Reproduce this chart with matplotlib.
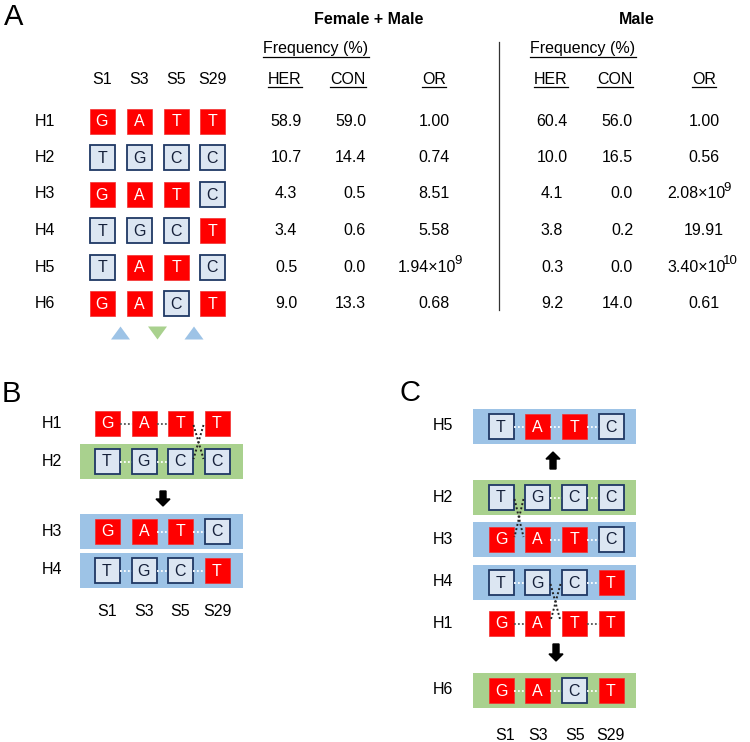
import numpy as np
import matplotlib
matplotlib.use('Agg')
import matplotlib.pyplot as plt
from matplotlib.patches import Rectangle, Polygon, FancyArrow

plt.rcParams['font.family'] = ['Liberation Sans', 'DejaVu Sans']

# ---- data ----
snps = ['S1', 'S3', 'S5', 'S29']
haps = ['H1', 'H2', 'H3', 'H4', 'H5', 'H6']
alleles = ['GATT', 'TGCC', 'GATC', 'TGCT', 'TATC', 'GACT']
risk = 'GATT'
fm_her = [58.9, 10.7, 4.3, 3.4, 0.5, 9.0]
fm_con = [59.0, 14.4, 0.5, 0.6, 0.0, 13.3]
fm_or = [1.00, 0.74, 8.51, 5.58, 1.94e9, 0.68]
m_her = [60.4, 10.0, 4.1, 3.8, 0.3, 9.2]
m_con = [56.0, 16.5, 0.0, 0.2, 0.0, 14.0]
m_or = [1.00, 0.56, 2.08e9, 19.91, 3.40e10, 0.61]
tri_dirs = ['up', 'down', 'up']

# panel B / C rows; links: 'w' white dots, 'g' gray dots, '' none
b_rows = ['H1', 'H2', 'H3', 'H4']
b_bands = [None, 'green', 'blue', 'blue']
b_links = [['g', 'g', ''], ['w', 'w', ''], ['', 'w', 'w'], ['w', 'w', 'w']]
b_cross = [(0, 2)]  # (upper row index, gap index)
c_rows = ['H5', 'H2', 'H3', 'H4', 'H1', 'H6']
c_bands = ['blue', 'green', 'blue', 'blue', None, 'green']
c_links = [['w', 'w', 'w'], ['', 'w', 'w'], ['', 'w', 'w'], ['w', '', 'w'],
           ['g', '', 'g'], ['w', 'w', 'w']]
c_cross = [(1, 0), (3, 1)]

RED = '#FF0000'
LBLUE = '#DCE6F2'
NAVY = '#1F3864'
BAND = {'blue': '#9DC3E6', 'green': '#A9D18E'}
FS = 11.5
BOX = 25

fig = plt.figure(figsize=(7.5, 7.42), dpi=100)
ax = fig.add_axes([0, 0, 1, 1])
ax.set_xlim(0, 750)
ax.set_ylim(742, 0)
ax.axis('off')


def box(x, y, ch, ref):
    if ch == ref:
        ax.add_patch(Rectangle((x - BOX / 2, y - BOX / 2), BOX, BOX, fc=RED, ec='#F03030', lw=0.5))
        ax.text(x, y + 1, ch, ha='center', va='center', color='white', fontsize=FS)
    else:
        ax.add_patch(Rectangle((x - BOX / 2, y - BOX / 2), BOX, BOX, fc=LBLUE, ec=NAVY, lw=1.3))
        ax.text(x, y + 1, ch, ha='center', va='center', color='#15203a', fontsize=FS)


underlined = []
sups = []


def or_text(x_center, x_left, y, v):
    if v > 1e6:
        e = int(np.floor(np.log10(v)))
        t = ax.text(x_left, y, '%.2f\u00d710' % (v / 10 ** e), fontsize=FS, ha='left', va='center')
        sups.append((t, str(e), y))
    else:
        ax.text(x_center, y, '%.2f' % v, fontsize=FS, ha='center', va='center')


# ---- panel A ----
ax.text(14, 17, 'A', fontsize=21, ha='center', va='center')
ax.text(369, 19, 'Female + Male', fontsize=FS, weight='bold', ha='center', va='center')
ax.text(637, 19, 'Male', fontsize=FS, weight='bold', ha='center', va='center')
underlined.append(ax.text(316, 49, 'Frequency (%)', fontsize=FS, ha='center', va='center'))
underlined.append(ax.text(583, 49, 'Frequency (%)', fontsize=FS, ha='center', va='center'))
a_x = [102, 139, 176, 212]
for x, s in zip(a_x, snps):
    ax.text(x, 79, s, fontsize=FS, ha='center', va='center')
for x, s in zip([285, 348, 434, 551, 615, 704], ['HER', 'CON', 'OR', 'HER', 'CON', 'OR']):
    underlined.append(ax.text(x, 79, s, fontsize=FS, ha='center', va='center'))
ax.plot([499, 499], [42, 310], color='#333333', lw=0.9)

a_y = 121 + 36.5 * np.arange(len(haps))
for i, h in enumerate(haps):
    y = a_y[i]
    ax.text(45, y, h, fontsize=FS, ha='center', va='center')
    for j, x in enumerate(a_x):
        box(x, y, alleles[i][j], risk[j])
    ax.text(286, y, '%.1f' % fm_her[i], fontsize=FS, ha='center', va='center')
    ax.text(366, y, '%.1f' % fm_con[i], fontsize=FS, ha='right', va='center')
    or_text(434, 398, y, fm_or[i])
    ax.text(552, y, '%.1f' % m_her[i], fontsize=FS, ha='center', va='center')
    ax.text(633, y, '%.1f' % m_con[i], fontsize=FS, ha='right', va='center')
    or_text(704, 667, y, m_or[i])

for k, d in enumerate(tri_dirs):
    xc = (a_x[k] + a_x[k + 1]) / 2
    yc = 333
    if d == 'up':
        pts = [(xc - 9.5, yc + 6.5), (xc + 9.5, yc + 6.5), (xc, yc - 6.5)]
        col = BAND['blue']
    else:
        pts = [(xc - 9.5, yc - 6.5), (xc + 9.5, yc - 6.5), (xc, yc + 6.5)]
        col = BAND['green']
    ax.add_patch(Polygon(pts, closed=True, fc=col, ec='none'))


def panel(rows, bands, links, cross, xs, ys, lab_x, band_x0, band_x1):
    for i, h in enumerate(rows):
        y = ys[i]
        if bands[i] is not None:
            ax.add_patch(Rectangle((band_x0, y - 17.5), band_x1 - band_x0, 35, fc=BAND[bands[i]], ec='none'))
        ax.text(lab_x, y, h, fontsize=FS, ha='center', va='center')
        seq = alleles[haps.index(h)]
        for j, l in enumerate(links[i]):
            if l:
                col = 'white' if l == 'w' else '#555555'
                ax.plot([xs[j] + BOX / 2, xs[j + 1] - BOX / 2], [y + 1, y + 1], ls=(0, (1, 1.2)), color=col, lw=1.3)
        for j, x in enumerate(xs):
            box(x, y, seq[j], risk[j])
    for r, g in cross:
        x0 = xs[g] + BOX / 2 + 1
        x1 = xs[g + 1] - BOX / 2 - 1
        y0 = ys[r] + 2
        y1 = ys[r + 1] - 2
        ax.plot([x0, x1], [y0, y1], ls=(0, (1, 1.2)), color='#222222', lw=1.4, zorder=5)
        ax.plot([x1, x0], [y0, y1], ls=(0, (1, 1.2)), color='#222222', lw=1.4, zorder=5)


def arrow(x, y0, y1):
    ax.add_patch(FancyArrow(x, y0, 0, y1 - y0, width=6, head_width=14, head_length=7,
                            length_includes_head=True, fc='black', ec='black'))


# ---- panel B ----
ax.text(11, 394, 'B', fontsize=21, ha='center', va='center')
b_x = [107, 144, 180, 217]
b_y = [423, 461, 531, 570]
panel(b_rows, b_bands, b_links, b_cross, b_x, b_y, 52, 80, 243)
arrow(163, 491, 506)
for x, s in zip(b_x, snps):
    ax.text(x, 612, s, fontsize=FS, ha='center', va='center')

# ---- panel C ----
ax.text(410, 393, 'C', fontsize=21, ha='center', va='center')
c_x = [501, 537, 574, 611]
c_y = [426, 497, 539, 582, 623, 690]
panel(c_rows, c_bands, c_links, c_cross, c_x, c_y, 443, 473, 636)
arrow(553, 469, 452)
arrow(556, 644, 661)
for x, s in zip([505, 538, 575, 610], snps):
    ax.text(x, 735, s, fontsize=FS, ha='center', va='center')

# underlines and superscripts need the rendered text extents
fig.canvas.draw()
inv = ax.transData.inverted()
for t in underlined:
    bb = t.get_window_extent()
    (xa, _), (xb, _) = inv.transform([[bb.x0, bb.y0], [bb.x1, bb.y0]])
    yt = t.get_position()[1] + 8
    ax.plot([xa, xb], [yt, yt], color='black', lw=0.9)
for t, e, y in sups:
    bb = t.get_window_extent()
    xr = inv.transform([[bb.x1, bb.y0]])[0][0]
    ax.text(xr - 2, y - 6, e, fontsize=9.5, ha='left', va='center')

fig.savefig('out.png', dpi=100)
